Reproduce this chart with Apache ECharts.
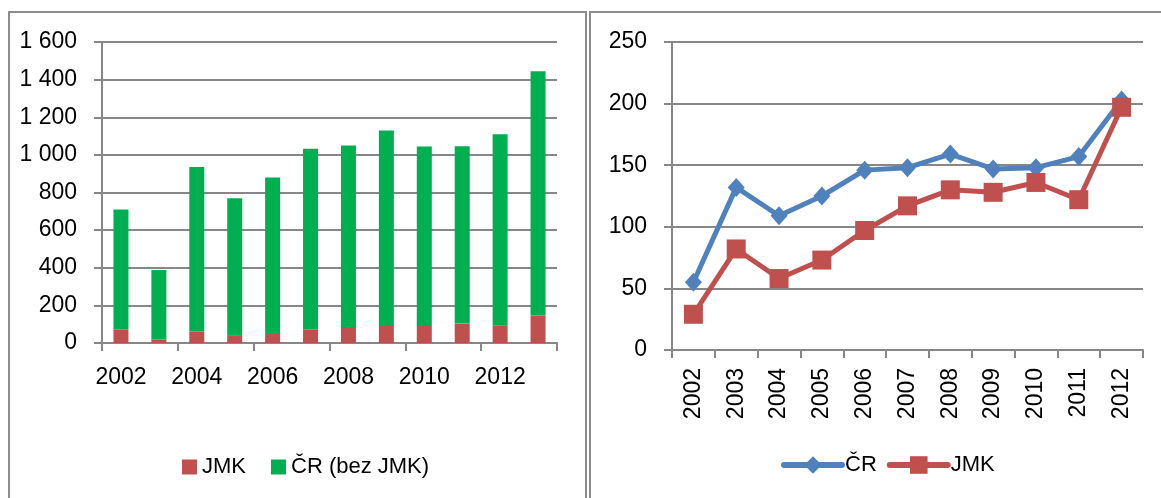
<!DOCTYPE html>
<html>
<head>
<meta charset="utf-8">
<script src="https://cdn.jsdelivr.net/npm/echarts@6/dist/echarts.min.js"></script>
<style>
html,body{margin:0;padding:0;background:#fff;}
#chart{width:1161px;height:498px;}
</style>
</head>
<body>
<div id="chart"></div>
<script>
// Left chart (stacked bars)
const barYears = ['2002','2003','2004','2005','2006','2007','2008','2009','2010','2011','2012','2013'];
const jmkCounts = [72, 19, 62, 42, 53, 72, 85, 96, 96, 103, 92, 147];
const crBezJmkCounts = [638, 369, 873, 728, 827, 961, 965, 1033, 948, 943, 1018, 1297];
// Right chart (lines)
const lineYears = ['2002','2003','2004','2005','2006','2007','2008','2009','2010','2011','2012'];
const crIndex = [55, 132, 109, 125, 146, 148, 159, 147, 148, 157, 203];
const jmkIndex = [29, 82, 58, 73, 97, 117, 130, 128, 136, 122, 197];

const FONT = 'Liberation Sans';
const GRAY = '#878787';
const chart = echarts.init(document.getElementById('chart'));

function thousands(v){ return String(v).replace(/\B(?=(\d{3})+(?!\d))/g, ' '); }

const axisLineStyle = {lineStyle:{color:GRAY, width:2}};
const labelStyle = {color:'#000', fontFamily:FONT, fontSize:23};

chart.setOption({
  animation:false,
  graphic:[
    {type:'rect', shape:{x:9, y:12, width:577, height:500}, style:{fill:'none', stroke:'#8c8c8c', lineWidth:2}},
    {type:'rect', shape:{x:590, y:12, width:600, height:500}, style:{fill:'none', stroke:'#8c8c8c', lineWidth:2}}
  ],
  grid:[
    {left:102, top:42, width:455, height:301},
    {left:672, top:42, width:471, height:308}
  ],
  legend:[
    {
      data:['JMK','ČR (bez JMK)'],
      left:177, top:451,
      itemWidth:15, itemHeight:15, itemGap:25,
      icon:'rect',
      selectedMode:false,
      textStyle:{color:'#000', fontFamily:FONT, fontSize:22}
    },
    {
      data:['ČR_line','JMK_line'],
      left:776, top:449,
      itemWidth:58, itemHeight:22, itemGap:10,
      selectedMode:false,
      lineStyle:{width:6, cap:'round'},
      formatter:function(n){ return n.replace('_line',''); },
      textStyle:{color:'#000', fontFamily:FONT, fontSize:22, padding:[0,0,0,-2]}
    }
  ],
  xAxis:[
    {
      type:'category', gridIndex:0, data:barYears, boundaryGap:true,
      axisLine:axisLineStyle,
      axisTick:{show:true, interval:1, length:8, lineStyle:{color:GRAY, width:2}},
      axisLabel:Object.assign({interval:1, margin:23}, labelStyle)
    },
    {
      type:'category', gridIndex:1, data:lineYears, boundaryGap:true,
      axisLine:axisLineStyle,
      axisTick:{show:true, interval:0, length:8, lineStyle:{color:GRAY, width:2}},
      axisLabel:Object.assign({interval:0, rotate:90, margin:18}, labelStyle)
    }
  ],
  yAxis:[
    {
      type:'value', gridIndex:0, min:0, max:1600, interval:200,
      axisLine:{show:true, lineStyle:{color:GRAY, width:2}},
      axisTick:{show:true, length:8, lineStyle:{color:GRAY, width:2}},
      splitLine:{lineStyle:{color:GRAY, width:2}},
      axisLabel:Object.assign({margin:25, formatter:thousands}, labelStyle)
    },
    {
      type:'value', gridIndex:1, min:0, max:250, interval:50,
      axisLine:{show:true, lineStyle:{color:GRAY, width:2}},
      axisTick:{show:true, length:8, lineStyle:{color:GRAY, width:2}},
      splitLine:{lineStyle:{color:GRAY, width:2}},
      axisLabel:Object.assign({margin:25}, labelStyle)
    }
  ],
  series:[
    {name:'JMK', type:'bar', stack:'a', xAxisIndex:0, yAxisIndex:0, data:jmkCounts, barWidth:15, itemStyle:{color:'#C0504D'}},
    {name:'ČR (bez JMK)', type:'bar', stack:'a', xAxisIndex:0, yAxisIndex:0, data:crBezJmkCounts, barWidth:15, itemStyle:{color:'#00B050'}},
    {name:'ČR_line', type:'line', xAxisIndex:1, yAxisIndex:1, data:crIndex,
      symbol:'diamond', symbolSize:[17,19], showAllSymbol:true,
      lineStyle:{color:'#4F81BD', width:5}, itemStyle:{color:'#4F81BD'}},
    {name:'JMK_line', type:'line', xAxisIndex:1, yAxisIndex:1, data:jmkIndex,
      symbol:'rect', symbolSize:19, showAllSymbol:true,
      lineStyle:{color:'#C0504D', width:5}, itemStyle:{color:'#C0504D'}}
  ]
});
</script>
</body>
</html>
